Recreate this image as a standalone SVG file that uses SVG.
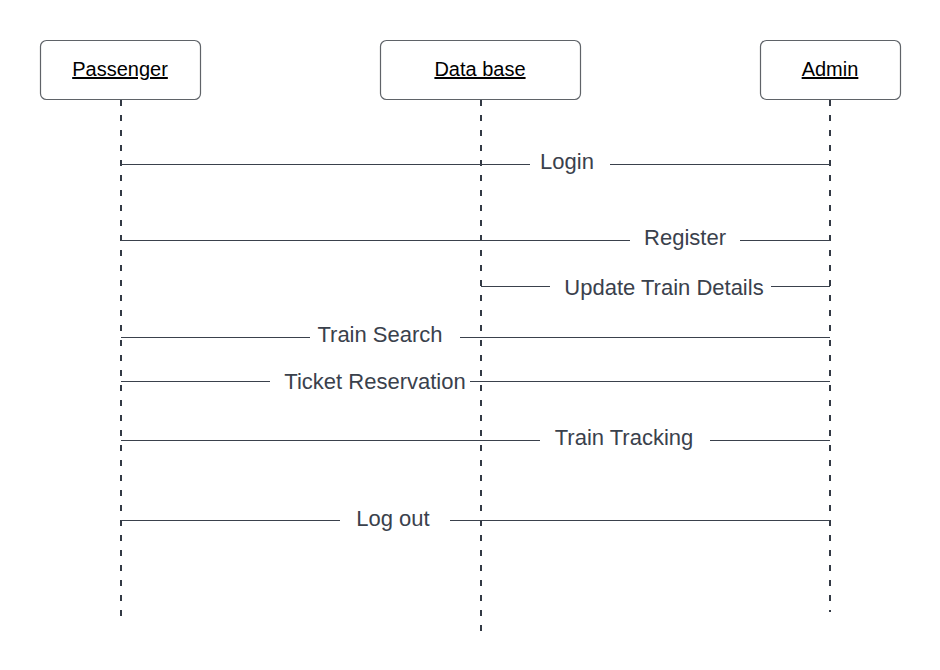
<svg xmlns="http://www.w3.org/2000/svg" width="940" height="670" viewBox="0 0 940 670">
<style>
.box{fill:#fff;stroke:#5f6368;stroke-width:1.2}
.hd{font-family:"Liberation Sans",Arial,sans-serif;font-size:20px;fill:#000;text-anchor:middle;text-decoration:underline}
.life{stroke:#333a45;stroke-width:2;stroke-dasharray:6 9;fill:none}
.msg{stroke:#3a414c;stroke-width:1.2;fill:none}
.lbl{font-family:"Liberation Sans",Arial,sans-serif;font-size:22px;fill:#3a414c;text-anchor:middle}
</style>
<rect width="940" height="670" fill="#fff"/>
<g id="lifelines">
<line class="life" x1="121" y1="100" x2="121" y2="622"/>
<line class="life" x1="481" y1="100" x2="481" y2="632"/>
<line class="life" x1="830" y1="100" x2="830" y2="612"/>
</g>
<g id="passenger"><rect class="box" x="40.5" y="40.5" width="160" height="59" rx="6"/><text class="hd" x="120" y="76">Passenger</text></g>
<g id="database"><rect class="box" x="380.5" y="40.5" width="200" height="59" rx="6"/><text class="hd" x="480" y="76">Data base</text></g>
<g id="admin"><rect class="box" x="760.5" y="40.5" width="140" height="59" rx="6"/><text class="hd" x="830" y="76">Admin</text></g>
<g id="connectors">
<path class="msg" d="M121 164.5H530M610 164.5H830"/>
<path class="msg" d="M121 240.5H630M740 240.5H830"/>
<path class="msg" d="M481 286.5H550M771 286.5H830"/>
<path class="msg" d="M121 337.5H310M460 337.5H830"/>
<path class="msg" d="M121 381.5H270M470 381.5H830"/>
<path class="msg" d="M121 440.5H540M710 440.5H830"/>
<path class="msg" d="M121 520.5H340M450 520.5H830"/>
</g>
<g id="labels">
<text class="lbl" x="567" y="169">Login</text>
<text class="lbl" x="685" y="245">Register</text>
<text class="lbl" x="664" y="295">Update Train Details</text>
<text class="lbl" x="380" y="342">Train Search</text>
<text class="lbl" x="375" y="389">Ticket Reservation</text>
<text class="lbl" x="624" y="445">Train Tracking</text>
<text class="lbl" x="393" y="526">Log out</text>
</g>
</svg>
